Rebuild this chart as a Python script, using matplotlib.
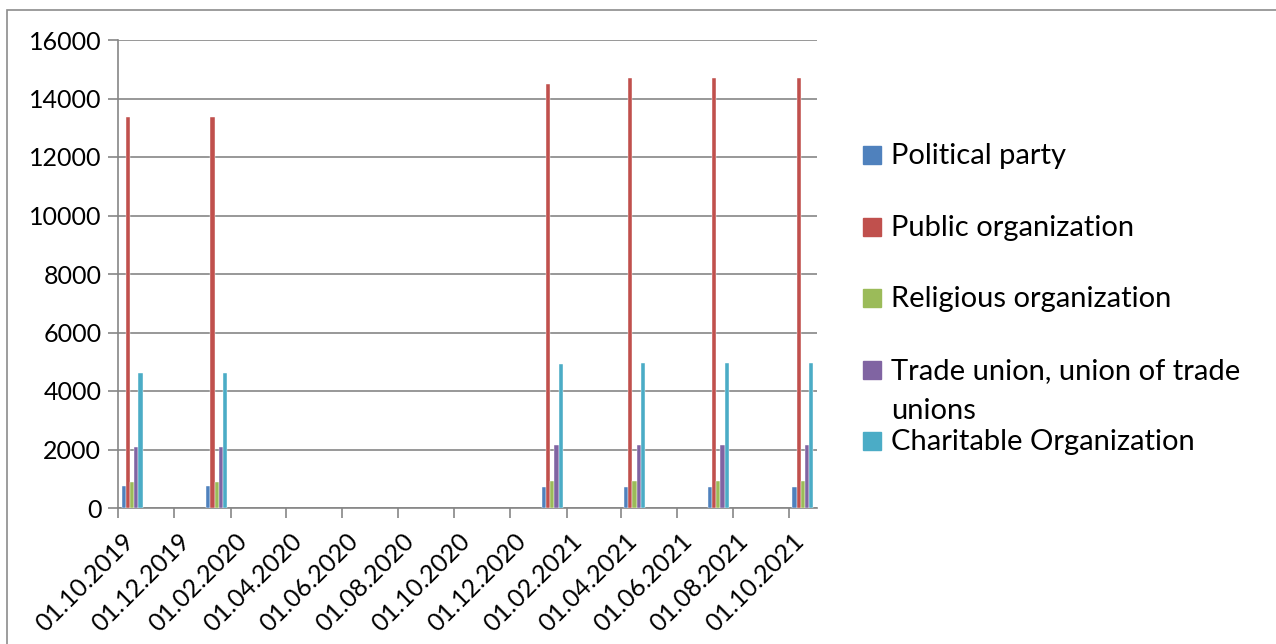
import numpy as np
import matplotlib
matplotlib.use("Agg")
import matplotlib.pyplot as plt
import matplotlib.dates as mdates
from matplotlib.patches import Rectangle
from matplotlib.transforms import ScaledTranslation

# dados
datas = ["2019-10", "2020-01", "2021-01", "2021-04", "2021-07", "2021-10"]
series = ["Political party", "Public organization", "Religious organization",
          "Trade union, union of trade\nunions", "Charitable Organization"]
political = [745, 745, 710, 710, 710, 710]
public = [13370, 13370, 14490, 14690, 14690, 14690]
religious = [880, 880, 915, 915, 915, 915]
trade = [2095, 2095, 2170, 2170, 2170, 2170]
charitable = [4630, 4630, 4915, 4970, 4970, 4970]
cores = ["#4F81BD", "#C0504D", "#9BBB59", "#8064A2", "#4BACC6"]

plt.rcParams['font.family'] = ['Lato', 'DejaVu Sans']

fig = plt.figure(figsize=(12.76, 6.44), dpi=100)
W, H = 1276, 644
ax = fig.add_axes([118 / W, 1 - 508 / H, (817 - 118) / W, (508 - 40) / H])

meses = np.array(datas, dtype="datetime64[M]")
inicio = mdates.date2num(meses.astype("datetime64[D]"))
fim = mdates.date2num((meses + 1).astype("datetime64[D]"))
centro = (inicio + fim) / 2
largura = 4.5  # dias

valores = [political, public, religious, trade, charitable]
for i, (vals, cor) in enumerate(zip(valores, cores)):
    ax.bar(centro + (i - 2) * largura, vals, width=largura, color=cor,
           edgecolor="white", linewidth=0.3, zorder=3)

grid_cor = "#868686"
ax.set_ylim(0, 16000)
ax.set_yticks(np.arange(0, 16001, 2000))
ax.yaxis.grid(True, color=grid_cor, linewidth=1.2, zorder=0)

x0 = mdates.date2num(np.datetime64("2019-10-01"))
x1 = mdates.date2num(np.datetime64("2021-11-01"))
ax.set_xlim(x0, x1)
ticks = np.arange(np.datetime64("2019-10"), np.datetime64("2021-11"), 2).astype("datetime64[D]")
ax.set_xticks(mdates.date2num(ticks))
ax.xaxis.set_major_formatter(mdates.DateFormatter("%d.%m.%Y"))

for s in ["top", "right"]:
    ax.spines[s].set_visible(False)
for s in ["left", "bottom"]:
    ax.spines[s].set_color(grid_cor)
    ax.spines[s].set_linewidth(1.2)
ax.tick_params(axis="both", color=grid_cor, width=1.2, length=7, labelsize=18)
ax.tick_params(axis="y", pad=5)
ax.tick_params(axis="x", pad=8)
for lab in ax.get_xticklabels():
    lab.set_rotation(45)
    lab.set_ha("right")
    lab.set_rotation_mode("anchor")
    lab.set_transform(lab.get_transform() + ScaledTranslation(0.04, 0, fig.dpi_scale_trans))

# legenda manual
for i, (nome, cor) in enumerate(zip(series, cores)):
    yc = 155 + i * 71.6
    fig.add_artist(Rectangle((863 / W, 1 - (yc + 9) / H), 18 / W, 18 / H,
                             transform=fig.transFigure, color=cor))
    fig.text(891 / W, 1 - (yc - 12) / H, nome, fontsize=21, va="top",
             ha="left", linespacing=1.7)

# borda externa (só topo e esquerda aparecem)
fig.add_artist(Rectangle((7 / W, -0.1), 1.2, 1.1 - 10 / H, transform=fig.transFigure,
                         fill=False, edgecolor="#8c8c8c", linewidth=1.2, clip_on=False))

fig.savefig("out.png", dpi=100)
